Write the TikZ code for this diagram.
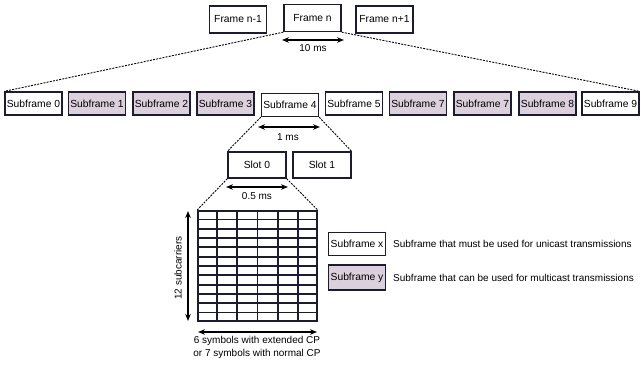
\documentclass[tikz,border=0pt]{standalone}
\usepackage{fontspec}
\setmainfont{Liberation Sans}
\usetikzlibrary{arrows.meta,calc}
\definecolor{edge}{HTML}{1C1C30}
\definecolor{mauve}{HTML}{DCD0DC}
\tikzset{
  box/.style={draw=edge, line width=1.3pt, inner sep=0pt, font=\fontsize{10.3}{12}\selectfont},
  sfbox/.style={box, minimum width=57pt, minimum height=23pt},
  mbox/.style={sfbox, fill=mauve},
  frbox/.style={box, minimum width=57pt, minimum height=27pt},
  slotbox/.style={box, minimum width=58pt, minimum height=26pt},
  zoomline/.style={line width=0.9pt, dash pattern=on 2pt off 1.2pt},
  dimarrow/.style={{Stealth[length=7pt,width=5.5pt]}-{Stealth[length=7pt,width=5.5pt]}, line width=1.4pt},
  lbl/.style={inner sep=0pt, font=\fontsize{10}{12}\selectfont},
  gridline/.style={edge, line width=1.8pt},
}
\begin{document}
\begin{tikzpicture}[x=1pt,y=-1pt]
\useasboundingbox (0,0) rectangle (641,365);
% frames
\node[frbox] (fprev) at (238,19.5) {Frame n-1};
\node[frbox] (fn) at (312.5,18) {Frame n};
\node[frbox] (fnext) at (384.5,19.5) {Frame n+1};
\coordinate (a10l) at (282,40);
\coordinate (a10r) at (344,40);
\draw[dimarrow] (a10l) -- (a10r);
\node[lbl] (t10) at (313,48) {10 ms};
% subframes
\node[sfbox] (s0) at (33.5,103.5) {Subframe 0};
\node[mbox] (s1) at (97,103.5) {Subframe 1};
\node[mbox] (s2) at (161.5,103.5) {Subframe 2};
\node[mbox] (s3) at (225.5,103.5) {Subframe 3};
\node[sfbox] (s4) at (290,105) {Subframe 4};
\node[sfbox] (s5) at (354,103.5) {Subframe 5};
\node[mbox] (s6) at (418,103.5) {Subframe 7};
\node[mbox] (s7) at (482.5,103.5) {Subframe 7};
\node[mbox] (s8) at (547.5,103.5) {Subframe 8};
\node[sfbox] (s9) at (610.5,103.5) {Subframe 9};
\draw[zoomline] (fn.south west) -- (s0.north west);
\draw[zoomline] (fn.south east) -- (s9.north east);
\coordinate (a1l) at (258,127);
\coordinate (a1r) at (320,127);
\draw[dimarrow] (a1l) -- (a1r);
\node[lbl] (t1) at (288,137) {1 ms};
% slots
\node[slotbox] (sl0) at (257,165) {Slot 0};
\node[slotbox] (sl1) at (322,165) {Slot 1};
\draw[zoomline] (s4.south west) -- (sl0.north west);
\draw[zoomline] (s4.south east) -- (sl1.north east);
\coordinate (a5l) at (226,187);
\coordinate (a5r) at (288,187);
\draw[dimarrow] (a5l) -- (a5r);
\node[lbl] (t5) at (257,196) {0.5 ms};
% grid
\node[draw=edge, line width=1.8pt, minimum width=119pt, minimum height=110pt, inner sep=0pt] (grid) at (257.5,266) {};
\foreach \i in {1,...,5} {
  \draw[gridline] ($(grid.north west)!\i/6!(grid.north east)$) -- ($(grid.south west)!\i/6!(grid.south east)$);
}
\foreach \j in {1,...,11} {
  \draw[gridline] ($(grid.north west)!\j/12!(grid.south west)$) -- ($(grid.north east)!\j/12!(grid.south east)$);
}
\draw[zoomline] (sl0.south west) -- (grid.north west);
\draw[zoomline] (sl0.south east) -- (grid.north east);
\coordinate (avt) at (188,211);
\coordinate (avb) at (188,321);
\draw[dimarrow] (avt) -- (avb);
\node[lbl, rotate=90] (tsub) at (178,268) {12 subcarriers};
\coordinate (ahl) at (198,332);
\coordinate (ahr) at (317,332);
\draw[dimarrow] (ahl) -- (ahr);
\node[lbl] (tsym1) at (257,341) {6 symbols with extended CP};
\node[lbl] (tsym2) at (257,354) {or 7 symbols with normal CP};
% legend
\node[sfbox] (lx) at (357,244) {Subframe x};
\node[mbox, minimum height=25pt] (ly) at (357,277.5) {Subframe y};
\node[lbl, anchor=west] (tlx) at (393,244) {Subframe that must be used for unicast transmissions};
\node[lbl, anchor=west] (tly) at (393,277.5) {Subframe that can be used for multicast transmissions};
\end{tikzpicture}
\end{document}
